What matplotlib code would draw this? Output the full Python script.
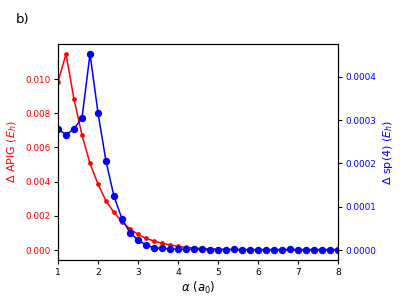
import matplotlib
matplotlib.use("Agg")
import matplotlib.pyplot as plt
import numpy as np

alpha = [1.0, 1.2, 1.4, 1.6, 1.8, 2.0, 2.2, 2.4, 2.6, 2.8, 3.0, 3.2, 3.4, 3.6, 3.8, 4.0,
         4.2, 4.4, 4.6, 4.8, 5.0, 5.2, 5.4, 5.6, 5.8, 6.0, 6.2, 6.4, 6.6, 6.8, 7.0, 7.2,
         7.4, 7.6, 7.8, 8.0]
d_apig = [0.00982, 0.01146, 0.00883, 0.00672, 0.00507, 0.00386, 0.00288, 0.00220, 0.00166,
          0.00123, 0.00092, 0.00068, 0.00053, 0.00040, 0.00030, 0.00022, 0.00016, 0.00012,
          0.00009, 0.00007, 0.00005, 0.00004, 0.00003, 0.000025, 0.00002, 0.000015, 0.000012,
          0.00001, 0.000008, 0.000006, 0.000005, 0.000004, 0.000003, 0.000003, 0.000002, 0.000002]
d_sp4 = [0.000280, 0.000266, 0.000280, 0.000305, 0.000453, 0.000317, 0.000205, 0.000124,
         0.0000717, 0.0000400, 0.0000230, 0.0000116, 0.0000054, 0.0000035, 0.0000025, 0.0000018,
         0.0000015, 0.0000013, 0.0000012, 0.0000011, 0.0000010, 0.0000010, 0.0000012, 0.0000010,
         0.0000010, 0.0000010, 0.0000010, 0.0000010, 0.0000010, 0.0000012, 0.0000010, 0.0000010,
         0.0000010, 0.0000010, 0.0000010, 0.0000010]

fig = plt.figure(figsize=(4.03, 3.02), dpi=100)
ax = fig.add_axes([58/403, 1 - 260/302, 280/403, 216/302])
ax.plot(alpha, d_apig, color="red", marker="o", markersize=2.4, linewidth=1.1)
ax.set_xlim(1, 8)
ax.set_ylim(-0.00058, 0.01205)
ax.set_xticks([1, 2, 3, 4, 5, 6, 7, 8])
ax.set_yticks([0.0, 0.002, 0.004, 0.006, 0.008, 0.010])
ax.set_yticklabels(["0.000", "0.002", "0.004", "0.006", "0.008", "0.010"])
ax.tick_params(axis="y", colors="red", labelsize=6.4, length=3, pad=2.5)
ax.tick_params(axis="y", color="black")
ax.tick_params(axis="x", labelsize=6.6, length=3, pad=2.5)
ax.set_xlabel(r"$\alpha$ ($a_0$)", fontsize=8.5, labelpad=2)
ax.set_ylabel(r"$\Delta$ APIG ($E_h$)", color="red", fontsize=8, labelpad=4)

ax2 = ax.twinx()
ax2.plot(alpha, d_sp4, color="blue", marker="o", markersize=4.3, linewidth=1.1)
ax2.set_ylim(-0.0000231, 0.000476)
ax2.set_yticks([0.0, 0.0001, 0.0002, 0.0003, 0.0004])
ax2.set_yticklabels(["0.0000", "0.0001", "0.0002", "0.0003", "0.0004"])
ax2.tick_params(axis="y", colors="blue", labelsize=6.4, length=3, pad=2.5)
ax2.tick_params(axis="y", color="black")
ax2.set_ylabel(r"$\Delta$ sp(4) ($E_h$)", color="blue", fontsize=8, labelpad=3)

fig.text(16/403, 1 - 19/302, "b)", fontsize=9.5, va="center", ha="left")

fig.savefig("out.png", dpi=100)
